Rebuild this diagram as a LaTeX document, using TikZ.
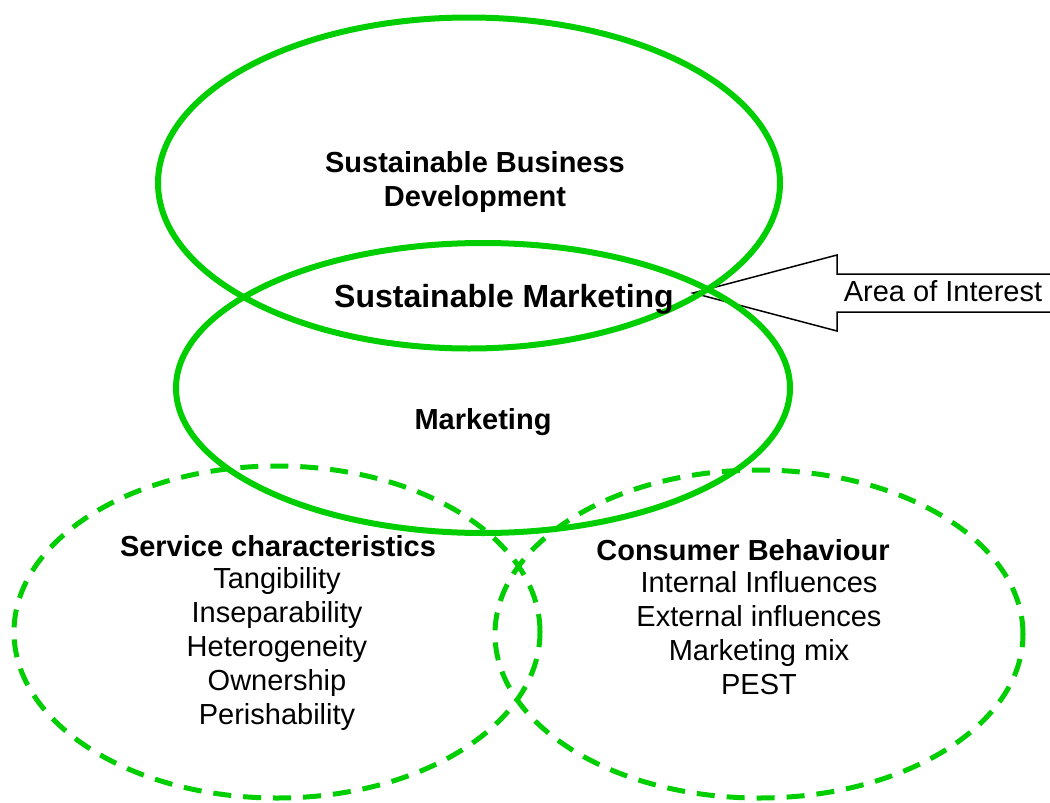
\documentclass[tikz,border=0pt]{standalone}
\usepackage{fontspec}
\setmainfont{Liberation Sans}
\usepackage{tikz}
\usetikzlibrary{shapes.geometric, positioning, calc}
\definecolor{smGreen}{RGB}{0,206,0}

\begin{document}
\begin{tikzpicture}[x=1pt, y=-1pt,
    solidring/.style={draw=smGreen, line width=6pt, ellipse, inner sep=0pt},
    dashring/.style={draw=smGreen, line width=5pt, ellipse, inner sep=0pt, dash pattern=on 18pt off 12pt},
    headtxt/.style={font=\fontsize{29}{33}\selectfont\bfseries, align=center, inner sep=0pt},
    listtxt/.style={font=\fontsize{29}{34}\selectfont, align=center, inner sep=0pt}]
      \useasboundingbox (0,0) rectangle (1050,803);

      % pointer to the overlap
      \coordinate (tip) at (693,293);
      \draw[line width=1.5pt, line join=miter] (1050,274) -- (837,274) -- (837,255) -- (tip) -- (837,331) -- (837,312) -- (1050,312);
      \node[font=\fontsize{29}{34}\selectfont, inner sep=0pt] (aoi) at (943,291) {Area of Interest};

      % dashed circles
      \node[dashring, minimum width=526pt, minimum height=332pt] (svc) at (277,632) {};
      \node[dashring, minimum width=528pt, minimum height=328pt] (cons) at (759,634) {};

      % solid circles
      \node[solidring, minimum width=622pt, minimum height=331pt] (sbd) at (469,183) {};
      \node[solidring, minimum width=614pt, minimum height=290pt] (mkt) at (483,388) {};

      \node[headtxt] (sbdtxt) at (475,182) {Sustainable Business\\Development};
      \node[headtxt, font=\fontsize{32}{36}\selectfont\bfseries] (smtxt) at (504,299) {Sustainable Marketing};
      \node[headtxt] (mkttxt) at (483,422) {Marketing};

      \node[headtxt] (svchead) at (278,546) {Service characteristics};
      \node[listtxt] (svclist) at (277,649) {Tangibility\\Inseparability\\Heterogeneity\\Ownership\\Perishability};

      \node[headtxt] (conshead) at (743,550) {Consumer Behaviour};
      \node[listtxt] (conslist) at (759,633) {Internal Influences\\External influences\\Marketing mix\\PEST};
    \end{tikzpicture}
\end{document}
